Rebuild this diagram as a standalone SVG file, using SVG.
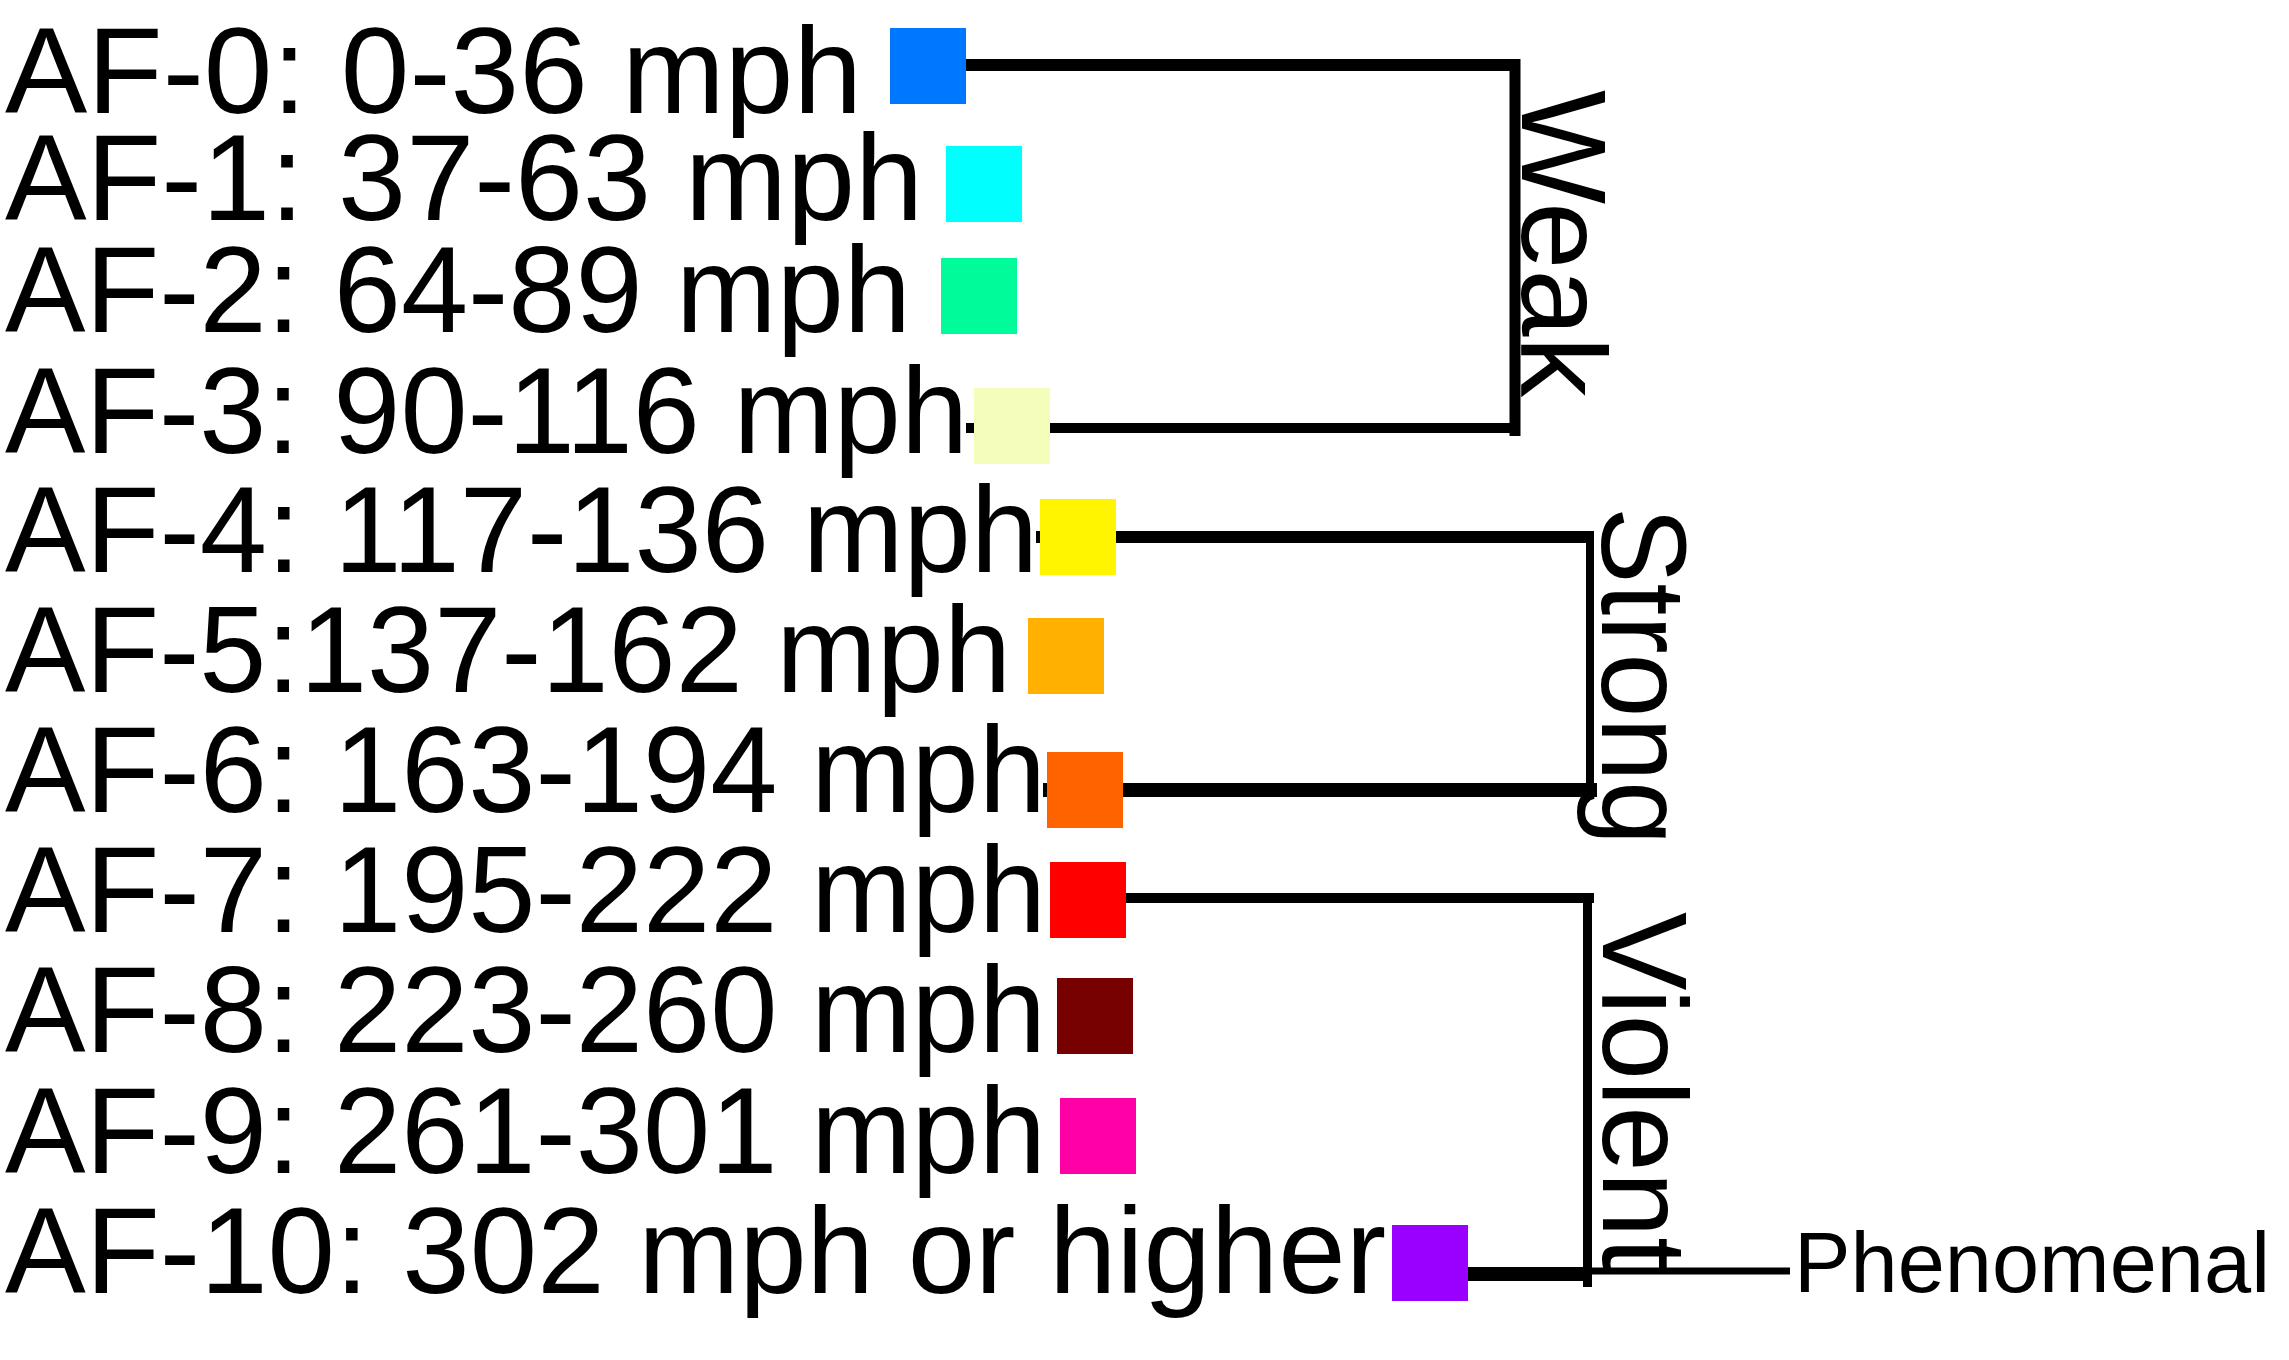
<svg xmlns="http://www.w3.org/2000/svg" width="2289" height="1360" viewBox="0 0 2289 1360">
<style>
.lbl{font-family:"Liberation Sans",Arial,Helvetica,sans-serif;font-size:123px;fill:#000}
.grp{font-family:"Liberation Sans",Arial,Helvetica,sans-serif;font-size:121px;fill:#000}
.ph{font-family:"Liberation Sans",Arial,Helvetica,sans-serif;font-size:86px;fill:#000}
.ln{stroke:#000;fill:none;stroke-linecap:butt}
</style>
<rect width="2289" height="1360" fill="#fff"/>
<g id="connectors">
<line class="ln" x1="960" y1="65" x2="1520" y2="65" stroke-width="12"/>
<line class="ln" x1="1515" y1="59" x2="1515" y2="436" stroke-width="11"/>
<line class="ln" x1="966" y1="428" x2="1515" y2="428" stroke-width="10"/>
<line class="ln" x1="1036" y1="537" x2="1594" y2="537" stroke-width="12"/>
<line class="ln" x1="1590" y1="531" x2="1590" y2="797" stroke-width="8"/>
<line class="ln" x1="1043" y1="790" x2="1597" y2="790" stroke-width="14"/>
<line class="ln" x1="1120" y1="898" x2="1594" y2="898" stroke-width="10"/>
<line class="ln" x1="1587.5" y1="893" x2="1587.5" y2="1287" stroke-width="9"/>
<line class="ln" x1="1460" y1="1274" x2="1588" y2="1274" stroke-width="14"/>
<line class="ln" x1="1588" y1="1271" x2="1790" y2="1271" stroke-width="7"/>
</g>
<g id="af0"><text class="lbl" x="5" y="113" textLength="857" lengthAdjust="spacingAndGlyphs">AF-0: 0-36 mph</text><rect x="890" y="28" width="76" height="76" fill="#0077ff"/></g>
<g id="af1"><text class="lbl" x="5" y="220" textLength="918" lengthAdjust="spacingAndGlyphs">AF-1: 37-63 mph</text><rect x="946" y="146" width="76" height="76" fill="#00ffff"/></g>
<g id="af2"><text class="lbl" x="5" y="332" textLength="906" lengthAdjust="spacingAndGlyphs">AF-2: 64-89 mph</text><rect x="941" y="258" width="76" height="76" fill="#00fc9a"/></g>
<g id="af3"><text class="lbl" x="5" y="453" textLength="963" lengthAdjust="spacingAndGlyphs">AF-3: 90-116 mph</text><rect x="974" y="388" width="76" height="76" fill="#f5fdba"/></g>
<g id="af4"><text class="lbl" x="5" y="572" textLength="1033" lengthAdjust="spacingAndGlyphs">AF-4: 117-136 mph</text><rect x="1040" y="499" width="76" height="76" fill="#fff500"/></g>
<g id="af5"><text class="lbl" x="5" y="692" textLength="1006" lengthAdjust="spacingAndGlyphs">AF-5:137-162 mph</text><rect x="1028" y="618" width="76" height="76" fill="#ffb000"/></g>
<g id="af6"><text class="lbl" x="5" y="812" textLength="1041" lengthAdjust="spacingAndGlyphs">AF-6: 163-194 mph</text><rect x="1047" y="752" width="76" height="76" fill="#ff6300"/></g>
<g id="af7"><text class="lbl" x="5" y="932" textLength="1041" lengthAdjust="spacingAndGlyphs">AF-7: 195-222 mph</text><rect x="1050" y="862" width="76" height="76" fill="#ff0000"/></g>
<g id="af8"><text class="lbl" x="5" y="1052" textLength="1041" lengthAdjust="spacingAndGlyphs">AF-8: 223-260 mph</text><rect x="1057" y="978" width="76" height="76" fill="#770000"/></g>
<g id="af9"><text class="lbl" x="5" y="1173" textLength="1041" lengthAdjust="spacingAndGlyphs">AF-9: 261-301 mph</text><rect x="1060" y="1098" width="76" height="76" fill="#ff00a6"/></g>
<g id="af10"><text class="lbl" x="5" y="1293" textLength="1381" lengthAdjust="spacingAndGlyphs">AF-10: 302 mph or higher</text><rect x="1392" y="1225" width="76" height="76" fill="#9900ff"/></g>
<g id="weak"><text class="grp" transform="translate(1522,90) rotate(90)" textLength="307" lengthAdjust="spacingAndGlyphs">Weak</text></g>
<g id="strong"><text class="grp" transform="translate(1602,507) rotate(90)" textLength="338" lengthAdjust="spacingAndGlyphs">Strong</text></g>
<g id="violent"><text class="grp" transform="translate(1603,912) rotate(90)" textLength="358" lengthAdjust="spacingAndGlyphs">Violent</text></g>
<g id="phenomenal"><text class="ph" x="1794" y="1292" textLength="476" lengthAdjust="spacingAndGlyphs">Phenomenal</text></g>
</svg>
